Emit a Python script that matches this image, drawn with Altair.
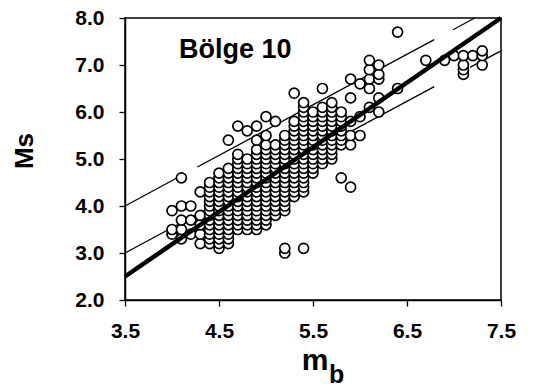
import altair as alt
import pandas as pd

# Scatter data: each mb column with its Ms values
mb_cols = [4.0, 4.1, 4.2, 4.3, 4.4, 4.5, 4.6, 4.7, 4.8, 4.9,
           5.0, 5.1, 5.2, 5.3, 5.4, 5.5, 5.6, 5.7, 5.8, 5.9,
           6.0, 6.1, 6.2, 6.4, 6.7, 6.9, 7.0, 7.1, 7.2, 7.3]
ms_cols = [
    [3.4, 3.5, 3.9],
    [3.3, 3.5, 3.7, 4.0, 4.6],
    [3.4, 3.7, 4.0],
    [3.2, 3.4, 3.6, 3.8, 4.3],
    [3.2, 3.3, 3.4, 3.5, 3.6, 3.7, 3.8, 3.9, 4.0, 4.1, 4.2, 4.3, 4.4, 4.5],
    [3.1, 3.2, 3.3, 3.4, 3.5, 3.6, 3.7, 3.8, 3.9, 4.0, 4.1, 4.2, 4.3, 4.4, 4.5, 4.6, 4.7],
    [3.2, 3.3, 3.4, 3.5, 3.6, 3.7, 3.8, 3.9, 4.0, 4.1, 4.2, 4.3, 4.4, 4.5, 4.6, 4.7, 4.8, 5.4],
    [3.5, 3.6, 3.7, 3.8, 3.9, 4.0, 4.1, 4.2, 4.3, 4.4, 4.5, 4.6, 4.7, 4.8, 4.9, 5.0, 5.1, 5.7],
    [3.5, 3.6, 3.7, 3.8, 3.9, 4.0, 4.1, 4.2, 4.3, 4.4, 4.5, 4.6, 4.7, 4.8, 4.9, 5.0, 5.6],
    [3.5, 3.6, 3.7, 3.8, 3.9, 4.0, 4.1, 4.2, 4.3, 4.4, 4.5, 4.6, 4.7, 4.8, 4.9, 5.0, 5.1, 5.2, 5.4, 5.7],
    [3.6, 3.7, 3.8, 3.9, 4.0, 4.1, 4.2, 4.3, 4.4, 4.5, 4.6, 4.7, 4.8, 4.9, 5.0, 5.1, 5.2, 5.3, 5.5, 5.9],
    [3.8, 3.9, 4.0, 4.1, 4.2, 4.3, 4.4, 4.5, 4.6, 4.7, 4.8, 4.9, 5.0, 5.1, 5.2, 5.3, 5.8],
    [3.0, 3.1, 3.9, 4.0, 4.1, 4.2, 4.3, 4.4, 4.5, 4.6, 4.7, 4.8, 4.9, 5.0, 5.1, 5.2, 5.3, 5.4, 5.5],
    [4.2, 4.3, 4.4, 4.5, 4.6, 4.7, 4.8, 4.9, 5.0, 5.1, 5.2, 5.3, 5.4, 5.5, 5.6, 5.7, 5.8, 6.4],
    [3.1, 4.3, 4.4, 4.5, 4.6, 4.7, 4.8, 4.9, 5.0, 5.1, 5.2, 5.3, 5.4, 5.5, 5.6, 5.7, 5.8, 5.9, 6.0, 6.1, 6.2],
    [4.7, 4.8, 4.9, 5.0, 5.1, 5.2, 5.3, 5.4, 5.5, 5.6, 5.7, 5.8, 5.9, 6.0],
    [4.9, 5.0, 5.1, 5.2, 5.3, 5.4, 5.5, 5.6, 5.7, 5.8, 5.9, 6.0, 6.1, 6.5],
    [5.0, 5.1, 5.2, 5.3, 5.4, 5.5, 5.6, 5.7, 5.8, 5.9, 6.0, 6.1, 6.2],
    [4.6, 5.3, 5.4, 5.5, 5.6, 5.7, 5.8, 5.9, 6.0],
    [4.4, 5.3, 5.5, 5.8, 6.3, 6.7],
    [5.5, 5.9, 6.6],
    [6.1, 6.5, 6.7, 6.9, 7.1],
    [6.0, 6.3, 6.7, 6.8, 7.0],
    [6.5, 7.7],
    [7.1],
    [7.1],
    [7.2],
    [6.8, 6.9, 7.0, 7.2],
    [7.2],
    [7.0, 7.2, 7.3],
]

# Regression line (thick) and the two thin lines (segments as seen in the figure)
thick_mb = [3.5, 7.5]
thick_ms = [2.5, 8.0]
thin_seg = ["u1", "u1", "u2", "u2", "u3", "u3", "l1", "l1", "l2", "l2"]
thin_mb = [3.5, 4.1, 4.27, 6.79, 6.99, 7.22, 3.5, 6.79, 7.17, 7.5]
thin_ms = [4.0, 4.65, 4.83, 7.54, 7.75, 8.0, 3.0, 6.54, 6.95, 7.3]

x_ticks = [3.5, 4.5, 5.5, 6.5, 7.5]
y_ticks = [2.0, 3.0, 4.0, 5.0, 6.0, 7.0, 8.0]

rows = []
for mb, lst in zip(mb_cols, ms_cols):
    for ms in lst:
        rows.append({"mb": mb, "ms": ms})
pts = pd.DataFrame(rows)
thick = pd.DataFrame({"mb": thick_mb, "ms": thick_ms})
thin = pd.DataFrame({"seg": thin_seg, "mb": thin_mb, "ms": thin_ms})

FONT = "Liberation Sans"
xs = alt.Scale(domain=[3.5, 7.5], nice=False, zero=False)
ys = alt.Scale(domain=[2.0, 8.0], nice=False, zero=False)
common = dict(title=None, grid=False, labelFont=FONT, labelFontSize=21,
              labelFontWeight="bold", labelColor="black", tickColor="black",
              domainColor="black", tickSize=6, labelFlush=False,
              domainWidth=1.5, tickWidth=1.3)
xax = alt.Axis(values=x_ticks, format=".1f", labelPadding=14, **common)
yax = alt.Axis(values=y_ticks, format=".1f", labelPadding=15, **common)

thin_layer = alt.Chart(thin).mark_line(color="black", strokeWidth=1.3).encode(
    x=alt.X("mb:Q", scale=xs, axis=xax),
    y=alt.Y("ms:Q", scale=ys, axis=yax),
    detail="seg:N",
)
pts_layer = alt.Chart(pts).mark_point(
    shape="circle", filled=False, fill="white", fillOpacity=1,
    stroke="black", strokeWidth=1.7, size=100, opacity=1
).encode(x=alt.X("mb:Q", scale=xs), y=alt.Y("ms:Q", scale=ys))
thick_layer = alt.Chart(thick).mark_line(color="black", strokeWidth=4.5).encode(
    x=alt.X("mb:Q", scale=xs), y=alt.Y("ms:Q", scale=ys))

title_txt = alt.Chart(pd.DataFrame({"t": ["Bölge 10"]})).mark_text(
    font=FONT, fontSize=27, fontWeight="bold", align="left", baseline="alphabetic",
    color="black").encode(x=alt.value(54), y=alt.value(40), text="t:N")
xt_m = alt.Chart(pd.DataFrame({"t": ["m"]})).mark_text(
    font=FONT, fontSize=30, fontWeight="bold", align="center", baseline="alphabetic",
    color="black").encode(x=alt.value(190), y=alt.value(352), text="t:N")
xt_b = alt.Chart(pd.DataFrame({"t": ["b"]})).mark_text(
    font=FONT, fontSize=25, fontWeight="bold", align="left", baseline="alphabetic",
    color="black").encode(x=alt.value(204), y=alt.value(365), text="t:N")
yt = alt.Chart(pd.DataFrame({"t": ["Ms"]})).mark_text(
    font=FONT, fontSize=26, fontWeight="bold", align="center", baseline="middle",
    angle=270, color="black").encode(x=alt.value(-100), y=alt.value(133), text="t:N")

chart = alt.layer(thin_layer, pts_layer, thick_layer, title_txt, xt_m, xt_b, yt).properties(
    width=376, height=282,
    autosize=alt.AutoSizeParams(type="none"),
    padding={"left": 125, "top": 18, "right": 34, "bottom": 90},
    background="white",
).configure_view(stroke="black", strokeWidth=1.5)

chart.save("out.html", embed_options={"renderer": "svg", "actions": False})
